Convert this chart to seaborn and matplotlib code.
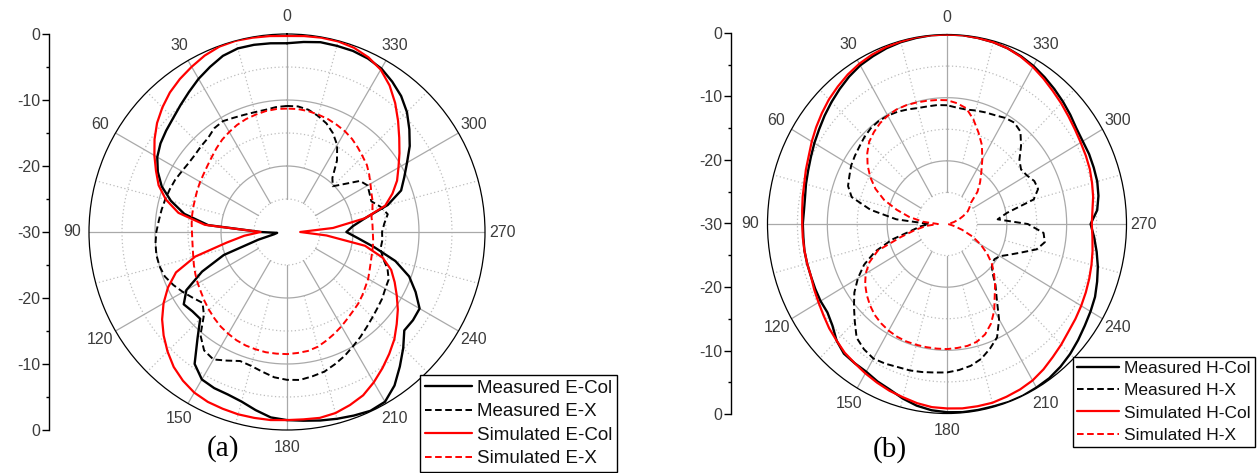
import numpy as np
import matplotlib
matplotlib.use("Agg")
import matplotlib.pyplot as plt
import seaborn as sns

sns.set_theme(style="white")
plt.rcParams["font.family"] = ["Liberation Sans", "DejaVu Sans"]

# Azimuth sampling of the patterns (degrees, counter-clockwise from 0 at the top)
ANGLES_DEG = np.arange(0, 360, 5)

# (a) E-plane patterns, normalised gain in dB
MEAS_E_COL = [
    -1.4, -1.3, -1.2, -1.2, -1.6, -2.4, -3.2, -4.1, -4.9, -5.6, -6.1, -6.6, -7.3, -8.4, -9.8, -11.8, -14.2, -18.0,
    -26.0, -28.5, -28.0, -25.5, -19.8, -15.8, -12.4, -10.9, -11.3, -11.4, -8.9, -5.6, -4.2, -3.9, -3.8, -3.4, -2.6, -1.8,
    -1.5, -1.3, -1.0, -0.7, -0.4, -0.1, -0.3, -1.6, -3.4, -5.1, -6.8, -6.7, -6.8, -8.5, -10.3, -13.0, -16.5, -19.2,
    -21.0, -20.0, -18.0, -14.2, -11.6, -10.4, -9.0, -7.3, -5.8, -4.3, -3.1, -2.2, -1.4, -1.0, -0.8, -0.8, -0.8, -1.1,
]
MEAS_E_X = [
    -10.9, -11.0, -11.2, -11.2, -11.1, -10.9, -10.6, -10.8, -11.4, -11.6, -11.8, -11.8, -11.6, -11.3, -11.1, -10.9, -10.7, -10.5,
    -10.2, -10.0, -9.9, -10.0, -10.3, -11.0, -11.8, -12.6, -13.3, -12.2, -9.6, -8.1, -7.7, -8.5, -9.2, -9.0, -8.5, -7.9,
    -7.6, -7.5, -7.8, -8.1, -8.7, -9.3, -10.0, -10.6, -11.2, -11.7, -12.1, -12.4, -12.8, -13.0, -13.8, -15.0, -15.6, -15.5,
    -15.6, -15.2, -14.5, -15.3, -16.4, -16.2, -15.9, -16.5, -18.7, -20.2, -19.3, -16.8, -14.8, -13.5, -12.5, -11.8, -11.2, -10.9,
]
SIM_E_COL = [
    -0.3, -0.2, -0.1, 0.0, -0.1, -0.5, -1.1, -1.7, -2.4, -3.3, -4.3, -5.5, -6.8, -8.1, -9.3, -11.0, -13.3, -17.5,
    -26.0, -23.5, -20.7, -15.6, -12.1, -10.1, -8.4, -6.9, -5.6, -4.4, -3.3, -2.5, -1.9, -1.6, -1.5, -1.4, -1.4, -1.4,
    -1.5, -1.5, -1.4, -1.6, -2.1, -2.7, -3.7, -4.8, -5.9, -7.0, -8.3, -9.5, -10.8, -12.0, -13.2, -15.0, -18.0, -24.0,
    -28.0, -23.0, -18.0, -14.6, -13.0, -11.6, -10.5, -9.2, -7.8, -6.2, -4.5, -2.9, -1.6, -0.8, -0.3, -0.1, -0.1, -0.2,
]
SIM_E_X = [
    -11.3, -11.3, -11.4, -11.6, -11.8, -12.1, -12.5, -12.9, -13.4, -13.9, -14.3, -14.6, -14.8, -15.0, -15.2, -15.3, -15.4, -15.5,
    -15.6, -15.6, -15.5, -15.3, -15.0, -14.7, -14.4, -14.1, -13.7, -13.3, -12.9, -12.5, -12.2, -11.9, -11.7, -11.6, -11.5, -11.5,
    -11.5, -11.6, -11.7, -12.0, -12.5, -13.0, -13.5, -14.0, -14.4, -14.7, -15.1, -15.5, -15.8, -16.2, -16.5, -16.7, -16.8, -16.9,
    -17.0, -17.0, -17.0, -16.6, -16.2, -15.9, -15.4, -14.8, -14.2, -13.8, -13.3, -12.8, -12.4, -12.1, -11.8, -11.6, -11.4, -11.3,
]

# (b) H-plane patterns, normalised gain in dB
MEAS_H_COL = [
    0.0, 0.0, -0.1, -0.2, -0.4, -0.7, -1.0, -1.5, -2.1, -2.7, -3.3, -3.9, -4.4, -4.9, -5.3, -5.6, -5.9, -6.0,
    -5.9, -5.9, -5.8, -5.8, -5.8, -5.7, -5.6, -5.6, -5.0, -3.9, -3.2, -3.1, -3.0, -2.5, -2.1, -1.4, -0.8, -0.4,
    -0.2, -0.1, -0.1, -0.1, 0.0, 0.0, -0.1, -0.2, -0.5, -0.9, -1.4, -1.9, -2.3, -2.7, -3.3, -3.9, -4.6, -5.3,
    -6.0, -4.8, -4.3, -4.0, -3.9, -3.8, -3.8, -3.6, -3.1, -2.6, -2.1, -1.6, -1.1, -0.7, -0.4, -0.2, -0.1, 0.0,
]
MEAS_H_X = [
    -11.2, -11.1, -11.1, -11.0, -10.7, -10.4, -10.2, -10.1, -10.2, -10.5, -10.9, -11.2, -11.5, -12.0, -12.4, -13.5, -17.0, -21.5,
    -27.0, -25.5, -24.0, -20.5, -17.2, -14.7, -12.8, -11.1, -9.7, -8.2, -6.5, -5.8, -5.4, -5.6, -5.9, -6.0, -6.2, -6.4,
    -6.5, -6.8, -7.2, -7.9, -9.0, -10.2, -12.6, -15.5, -17.4, -19.3, -20.2, -20.3, -19.8, -18.5, -16.8, -14.5, -13.4, -13.8,
    -16.5, -21.5, -19.8, -15.0, -13.8, -13.9, -14.6, -14.9, -14.2, -12.5, -10.9, -10.4, -10.6, -11.0, -11.2, -11.4, -11.6, -11.5,
]
SIM_H_COL = [
    0.0, 0.0, 0.0, -0.1, -0.2, -0.4, -0.7, -1.1, -1.6, -2.1, -2.7, -3.3, -3.9, -4.5, -4.9, -5.3, -5.5, -5.7,
    -5.8, -5.8, -5.8, -5.8, -5.8, -5.5, -5.2, -4.8, -4.3, -3.9, -3.4, -3.1, -2.7, -2.3, -1.9, -1.6, -1.2, -0.9,
    -0.8, -0.7, -0.7, -0.7, -0.9, -1.1, -1.4, -1.9, -2.5, -3.0, -3.5, -3.8, -4.1, -4.4, -4.7, -5.0, -5.3, -5.6,
    -5.8, -5.6, -5.2, -4.9, -4.6, -4.4, -4.2, -3.9, -3.5, -3.0, -2.5, -1.9, -1.3, -0.8, -0.4, -0.2, -0.1, 0.0,
]
SIM_H_X = [
    -10.4, -10.3, -10.2, -10.1, -10.0, -10.0, -10.2, -10.5, -11.0, -11.6, -12.6, -13.8, -15.2, -16.8, -18.8, -21.3, -23.6, -26.0,
    -28.5, -26.5, -24.6, -22.0, -17.7, -15.7, -14.3, -13.3, -12.5, -11.8, -11.2, -10.8, -10.5, -10.3, -10.2, -10.2, -10.2, -10.2,
    -10.2, -10.3, -10.4, -10.7, -11.4, -12.6, -14.2, -16.1, -17.5, -18.9, -20.2, -21.8, -23.5, -25.3, -27.3, -28.8, -29.5, -29.8,
    -29.9, -29.8, -29.5, -28.8, -27.9, -27.0, -26.0, -25.4, -24.8, -22.8, -21.4, -20.0, -18.2, -16.2, -14.6, -12.9, -11.4, -10.8,
]

LABELS_A = ["Measured E-Col", "Measured E-X", "Simulated E-Col", "Simulated E-X"]
LABELS_B = ["Measured H-Col", "Measured H-X", "Simulated H-Col", "Simulated H-X"]
THETA_TICKS = np.arange(0, 360, 30)
DB_TICKS = np.arange(-30, 31, 10)

GRID_SOLID = "#a9a9a9"
GRID_DOT = "#bdbdbd"
TEXT_GREY = "#3c3c3c"
DASH = (0, (3.4, 1.8))

fig = plt.figure(figsize=(12.6, 4.73), dpi=100)


def closed(values):
    theta = np.deg2rad(np.append(ANGLES_DEG, 360))
    return theta, np.append(values, values[0])


def polar_panel(rect, series, labels):
    ax = fig.add_axes(rect, projection="polar")
    ax.set_theta_zero_location("N")
    ax.set_theta_direction(1)
    ax.grid(False)

    # radial and angular grid
    ring = np.linspace(0, 2 * np.pi, 721)
    for r in (-20, -10):
        ax.plot(ring, np.full_like(ring, r), color=GRID_SOLID, lw=0.9, zorder=1)
    for r in (-25, -15, -5):
        ax.plot(ring, np.full_like(ring, r), color=GRID_DOT, lw=0.9,
                ls=(0, (1, 2)), zorder=1)
    for a in np.deg2rad(THETA_TICKS):
        ax.plot([a, a], [-25, 0], color=GRID_SOLID, lw=0.9, zorder=1)
    for a in np.deg2rad(THETA_TICKS + 15):
        ax.plot([a, a], [-20, 0], color=GRID_DOT, lw=0.9, ls=(0, (1, 2)), zorder=1)

    handles = []
    styles = [("black", "-", 1.7), ("black", DASH, 1.4),
              ("#ff0000", "-", 1.6), ("#ff0000", DASH, 1.4)]
    for vals, lab, (col, ls, lw) in zip(series, labels, styles):
        th, rr = closed(vals)
        sns.lineplot(x=th, y=rr, ax=ax, sort=False, estimator=None,
                     color=col, linestyle=ls, linewidth=lw, zorder=3)
        line = ax.lines[-1]
        line.set_label(lab)
        handles.append(line)
    if ax.get_legend() is not None:
        ax.get_legend().remove()

    ax.set_rlim(-30, 0)
    ax.set_yticks([])
    ax.set_xlabel("")
    ax.set_ylabel("")
    ax.set_xticks(np.deg2rad(THETA_TICKS))
    ax.set_xticklabels([str(t) for t in THETA_TICKS])
    ax.set_xticks(np.deg2rad(THETA_TICKS + 15), minor=True)
    ax.tick_params(axis="x", which="major", direction="in", length=6, width=0.8,
                   color="black", labelsize=11.5, labelcolor=TEXT_GREY, pad=5.5)
    ax.tick_params(axis="x", which="minor", direction="in", length=3, width=0.8,
                   color="black")
    ax.spines["polar"].set_color("black")
    ax.spines["polar"].set_linewidth(0.9)
    ax.set_aspect("auto")
    return ax, handles


def db_axis(rect):
    ax = fig.add_axes(rect)
    ax.set_ylim(-30, 30)
    ax.set_xlim(0, 1)
    for s in ("top", "right", "bottom"):
        ax.spines[s].set_visible(False)
    ax.spines["left"].set_color("black")
    ax.spines["left"].set_linewidth(1.0)
    ax.set_xticks([])
    ax.set_yticks(DB_TICKS)
    ax.set_yticklabels([str(abs(v) - 30) for v in DB_TICKS])
    ax.set_yticks(DB_TICKS[:-1] + 5, minor=True)
    ax.tick_params(axis="y", which="major", direction="out", length=5, width=1,
                   color="black", labelsize=11.5, labelcolor=TEXT_GREY, pad=1, left=True)
    ax.tick_params(axis="y", which="minor", direction="out", length=2.5, width=1,
                   color="black", left=True)
    ax.patch.set_visible(False)
    return ax


W, H = 1260.0, 473.0

# panel (a): circle centred at (287, 232) px, radius 198 px
ax_a, h_a = polar_panel([89 / W, 1 - 430 / H, 396 / W, 396 / H],
                        [MEAS_E_COL, MEAS_E_X, SIM_E_COL, SIM_E_X], LABELS_A)
db_axis([49 / W, 1 - 430 / H, 0.01, 396 / H])

# panel (b): slightly taller than wide
ax_b, h_b = polar_panel([767.5 / W, 1 - 413.5 / H, 359 / W, 379 / H],
                        [MEAS_H_COL, MEAS_H_X, SIM_H_COL, SIM_H_X], LABELS_B)
db_axis([731 / W, 1 - 414 / H, 0.01, 381 / H])

legend_kw = dict(loc="lower left", frameon=True, fancybox=False, shadow=False,
                 framealpha=1, edgecolor="black", borderaxespad=0,
                 handletextpad=0.3, bbox_transform=fig.transFigure)
leg_a = fig.legend(h_a, LABELS_A, bbox_to_anchor=(420 / W, 1 - 472 / H),
                   prop={"family": "Liberation Sans", "size": 13.5},
                   labelspacing=0.34, borderpad=0.25, handlelength=2.5, **legend_kw)
leg_b = fig.legend(h_b, LABELS_B, bbox_to_anchor=(1073 / W, 1 - 447 / H),
                   prop={"family": "Liberation Sans", "size": 12.5},
                   labelspacing=0.4, borderpad=0.25, handlelength=2.4, **legend_kw)
for leg in (leg_a, leg_b):
    leg.get_frame().set_linewidth(1.0)
    for t in leg.get_texts():
        t.set_color("#111111")

fig.text(222.5 / W, 1 - 449 / H, "(a)", ha="center", va="center",
         family="Liberation Serif", fontsize=21, color="black")
fig.text(889.5 / W, 1 - 450 / H, "(b)", ha="center", va="center",
         family="Liberation Serif", fontsize=21, color="black")

fig.savefig("out.png", dpi=100, facecolor="white")
